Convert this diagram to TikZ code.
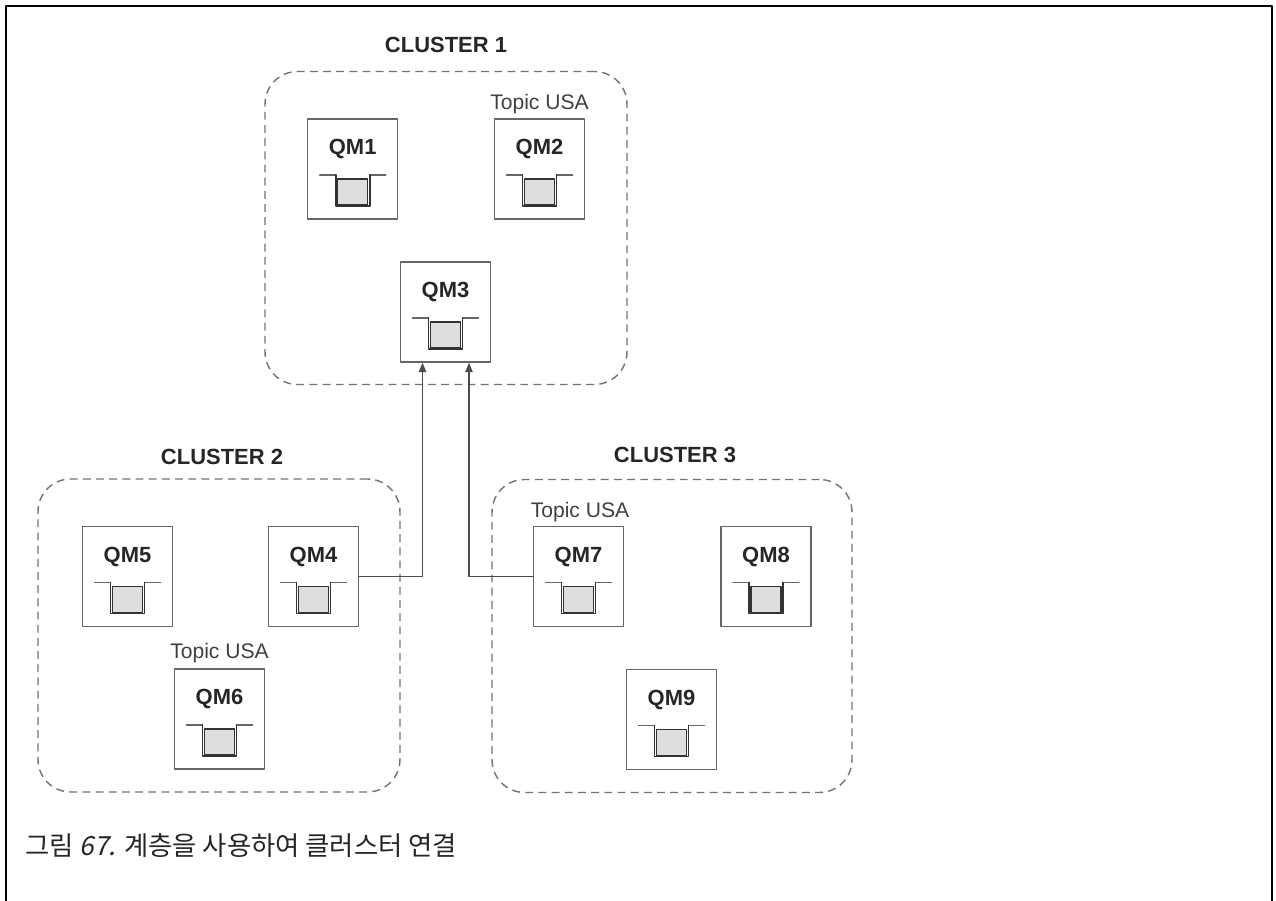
\documentclass[tikz,border=0pt]{standalone}
\usepackage{fontspec}
\setmainfont{Liberation Sans}
\newfontfamily\krfont{Noto Sans CJK KR}
\newfontfamily\krslant[FakeSlant=0.2]{Noto Sans CJK KR}
\usetikzlibrary{arrows.meta,positioning}

\begin{document}
\begin{tikzpicture}[x=0.02cm,y=-0.02cm,line cap=round,line join=round,
  qmbox/.style={draw=black!60,line width=.8pt,minimum width=1.8cm,minimum height=2cm,inner sep=0pt},
  qmname/.style={font=\fontsize{12.5}{15}\selectfont\bfseries,text=black!85,inner sep=0pt},
  topic/.style={font=\fontsize{12}{14}\selectfont,text=black!75,inner sep=0pt,anchor=base},
  cluster/.style={draw=black!55,line width=.8pt,line cap=butt,dash pattern=on 4.5pt off 3pt,rounded corners=.65cm,minimum width=7.24cm,minimum height=6.26cm,inner sep=0pt},
  link/.style={draw=black!70,line width=.7pt,-{Triangle[length=1.9mm,width=1.5mm]}}]
\path[use as bounding box] (0,0) rectangle (1276,901);
\draw[line width=1.4pt,line cap=butt] (6,920) -- (6,6) -- (1272,6) -- (1272,920);
\node[cluster] (c1) at (446,228) {};
\node[cluster] (c2) at (219,635.5) {};
\node[cluster,minimum width=7.2cm] (c3) at (672,636) {};
\node[qmname] (t1) at (446,45) {CLUSTER 1};
\node[qmname] (t2) at (222,457) {CLUSTER 2};
\node[qmname] (t3) at (675,455) {CLUSTER 3};
\foreach \n/\x/\y in {1/352.7/169,2/539.5/169,3/445.5/312,5/127.5/576.5,4/313.5/576.5,6/219.5/719,7/578.5/576.5,8/766/576.5,9/671.5/719.5} {
  \node[qmbox] (qm\n) at (\x,\y) {};
  \node[qmname] (n\n) at ([yshift=-.62cm]qm\n.north) {QM\n};
  \begin{scope}[shift={(qm\n.center)}]
    \draw[black!60,line width=.8pt] (-33,6) -- (-17,6) (17,6) -- (33,6);
    \filldraw[draw=black!80,fill=black!13,line width=.6pt] (-15,10) rectangle (15,36);
    \draw[black!80,line width=1.1pt] (-17,6) -- (-17,37) -- (17,37) -- (17,6);
  \end{scope}
}
\node[topic] (u2) at ([yshift=.18cm]qm2.north) {Topic USA};
\node[topic] (u6) at ([yshift=.2cm]qm6.north) {Topic USA};
\node[topic,xshift=.03cm] (u7) at ([yshift=.16cm]qm7.north) {Topic USA};
\draw[link] (qm4.east) -| ([xshift=-.46cm]qm3.south);
\draw[link] (qm7.west) -| ([xshift=.47cm]qm3.south);
\node[anchor=base west,inner sep=0pt,font=\fontsize{15}{18}\selectfont,text=black!85] (cap) at (25,856)
  {\krfont 그림 {\krslant 67.} 계층을 사용하여 클러스터 연결};
\end{tikzpicture}
\end{document}
